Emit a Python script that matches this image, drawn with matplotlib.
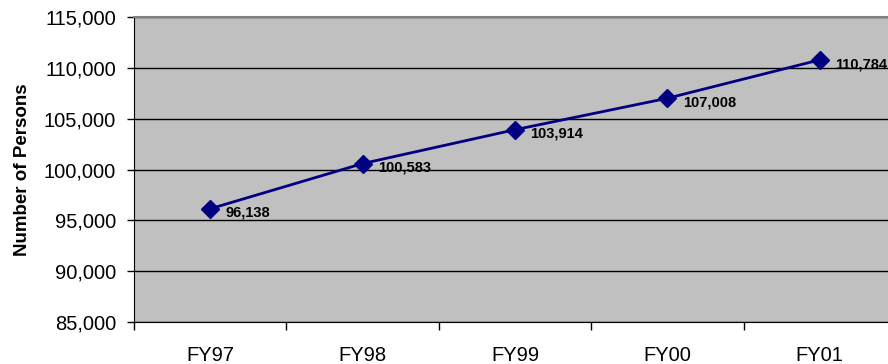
import matplotlib
matplotlib.use('Agg')
import matplotlib.pyplot as plt
from matplotlib.ticker import FuncFormatter, FixedLocator

years = ['FY97', 'FY98', 'FY99', 'FY00', 'FY01']
persons = [96138, 100583, 103914, 107008, 110784]
y_ticks = [85000, 90000, 95000, 100000, 105000, 110000, 115000]

plt.rcParams['font.family'] = ['Liberation Sans', 'DejaVu Sans']

fig = plt.figure(figsize=(8.88, 3.64), dpi=100)
# plot area runs past the right edge, as in the original
ax = fig.add_axes([134 / 888, 42 / 364, 762 / 888, 305 / 364])
ax.set_facecolor('#C0C0C0')

x = list(range(len(years)))
ax.plot(x, persons, color='#000080', lw=2, marker='D', ms=9.5,
        markerfacecolor='#000080', markeredgecolor='#000080', zorder=3)
for xi, v in zip(x, persons):
    ax.annotate(f'{v:,}', (xi, v), xytext=(11, -3), textcoords='offset points',
                ha='left', va='center', fontsize=10.5, fontweight='bold', zorder=4)

ax.set_xlim(-0.5, len(years) - 0.5)
ax.set_ylim(y_ticks[0], y_ticks[-1])
ax.set_yticks(y_ticks)
ax.yaxis.set_major_formatter(FuncFormatter(lambda v, p: f'{int(v):,}'))
ax.grid(axis='y', color='black', lw=1)
ax.set_axisbelow(True)

ax.xaxis.set_major_locator(FixedLocator([i - 0.5 for i in range(len(years) + 1)]))
ax.xaxis.set_minor_locator(FixedLocator(x))
ax.set_xticklabels([''] * (len(years) + 1))
ax.set_xticklabels(years, minor=True)
ax.tick_params(axis='x', which='major', length=6, width=1, direction='out')
ax.tick_params(axis='x', which='minor', length=0, pad=17, labelsize=14.5)
ax.tick_params(axis='y', length=5, width=1, direction='out', labelsize=14.5, pad=8)

for s in ['top', 'right']:
    ax.spines[s].set_color('#808080')
    ax.spines[s].set_linewidth(1.5)
ax.spines['left'].set_color('black')
ax.spines['bottom'].set_color('black')

ax.set_ylabel('Number of Persons', fontsize=13.5, fontweight='bold', labelpad=9)

fig.savefig('out.png', dpi=100)
